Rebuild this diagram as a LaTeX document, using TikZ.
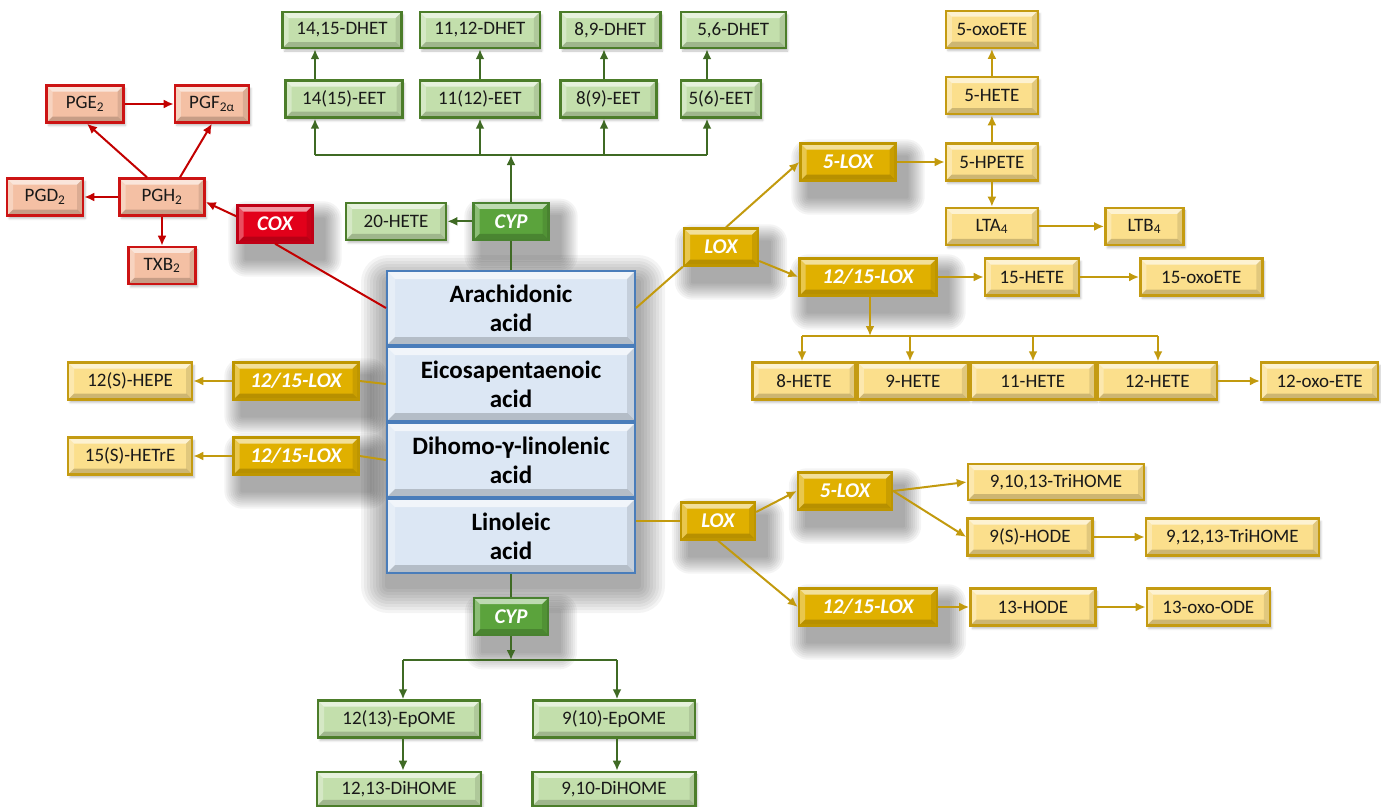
\documentclass[tikz,border=0pt]{standalone}
\usepackage{fontspec}
\setmainfont{Carlito}
\usetikzlibrary{positioning, calc, arrows.meta, shadows.blur, backgrounds}
\tikzset{>={Latex[length=10pt,width=9pt]}}
\definecolor{gFill}{HTML}{C3DFAC}
\definecolor{gBorder}{HTML}{4C7D2A}
\definecolor{gEnz}{HTML}{5BA33C}
\definecolor{gLine}{HTML}{3F6A24}
\definecolor{rFill}{HTML}{F4C0A4}
\definecolor{rBorder}{HTML}{CC1414}
\definecolor{rEnz}{HTML}{E2001A}
\definecolor{rLine}{HTML}{C20000}
\definecolor{yFill}{HTML}{FBDF8C}
\definecolor{yBorder}{HTML}{C49B12}
\definecolor{yEnz}{HTML}{E0B000}
\definecolor{yLine}{HTML}{C29A0E}
\definecolor{aFill}{HTML}{DCE7F4}
\definecolor{aBorder}{HTML}{4A7DBA}

\begin{document}
\begin{tikzpicture}[x=1pt, y=1pt,
  bevel/.style={path picture={
    \coordinate (bvA) at (path picture bounding box.north west);
    \coordinate (bvB) at (path picture bounding box.north east);
    \coordinate (bvC) at (path picture bounding box.south east);
    \coordinate (bvD) at (path picture bounding box.south west);
    \fill[white,opacity=.6] (bvA) -- (bvB) -- ([shift={(-#1,-#1)}]bvB) -- ([shift={(#1,-#1)}]bvA) -- cycle;
    \fill[white,opacity=.3] (bvA) -- (bvD) -- ([shift={(#1,#1)}]bvD) -- ([shift={(#1,-#1)}]bvA) -- cycle;
    \fill[black,opacity=.18] (bvD) -- (bvC) -- ([shift={(-#1,#1)}]bvC) -- ([shift={(#1,#1)}]bvD) -- cycle;
    \fill[black,opacity=.1] (bvB) -- (bvC) -- ([shift={(-#1,#1)}]bvC) -- ([shift={(-#1,-#1)}]bvB) -- cycle;
  }},
  bevel/.default=6pt,
  box/.style={draw, line width=2.4pt, minimum height=37pt, inner sep=0pt, bevel},
  prod/.style={box, text=black!90, font=\fontsize{19}{22}\selectfont,
    blur shadow={shadow xshift=2pt, shadow yshift=-3pt, shadow blur radius=2pt, shadow opacity=25}},
  enz/.style={box, text=white, font=\fontsize{21}{24}\selectfont\bfseries\itshape},
  gProd/.style={prod, draw=gBorder, fill=gFill},
  rProd/.style={prod, draw=rBorder, fill=rFill},
  yProd/.style={prod, draw=yBorder, fill=yFill},
  gEnzBox/.style={enz, draw=gEnz!80!black, fill=gEnz},
  rEnzBox/.style={enz, draw=rEnz!85!black, fill=rEnz},
  yEnzBox/.style={enz, draw=yEnz!85!black, fill=yEnz},
  acid/.style={draw=aBorder, fill=aFill, line width=2pt, minimum width=248pt, minimum height=74pt,
    inner sep=0pt, align=center, font=\fontsize{25}{29}\selectfont\bfseries, bevel=8pt},
  softShade/.style={fill=black, opacity=.045},
  gCon/.style={draw=gLine, line width=2pt},
  rCon/.style={draw=rLine, line width=2pt},
  yCon/.style={draw=yLine, line width=2pt},
  gArr/.style={gCon, ->, gLine},
  rArr/.style={rCon, ->, rLine},
  yArr/.style={yCon, ->, yLine}]
\useasboundingbox (0,0) rectangle (1381,-806);

% fatty acids
\node[acid] (arachidonic) at (511,-308) {Arachidonic\\acid};
\node[acid, below=0pt of arachidonic] (epa) {Eicosapentaenoic\\acid};
\node[acid, below=0pt of epa] (dgla) {Dihomo-γ-linolenic\\acid};
\node[acid, below=0pt of dgla] (linoleic) {Linoleic\\acid};

% COX branch
\node[rEnzBox, minimum width=75pt] (cox) at (275,-224) {COX};
\node[rProd, minimum width=85pt] (pgh) at (162,-197) {PGH\textsubscript{2}};
\node[rProd, minimum width=76pt, left=34pt of pgh] (pgd) {PGD\textsubscript{2}};
\node[rProd, minimum width=67pt, below=29pt of pgh] (txb) {TXB\textsubscript{2}};
\node[rProd, minimum width=77pt] (pge) at (85,-104) {PGE\textsubscript{2}};
\node[rProd, minimum width=74pt, right=49pt of pge] (pgf) {PGF\textsubscript{2α}};

% CYP branch (arachidonic acid)
\node[gEnzBox, minimum width=75pt, above=29pt of arachidonic] (cypTop) {CYP};
\node[gProd, minimum width=100pt, left=25pt of cypTop] (hete20) {20-HETE};
\node[gProd, minimum width=117pt] (eet14) at (344,-99) {14(15)-EET};
\node[gProd, minimum width=120pt, right=15pt of eet14] (eet11) {11(12)-EET};
\node[gProd, minimum width=96pt, right=18pt of eet11] (eet8) {8(9)-EET};
\node[gProd, minimum width=80pt, right=22pt of eet8] (eet5) {5(6)-EET};
\node[gProd, minimum width=119pt, minimum height=36pt] (dhet14) at (342,-30) {14,15-DHET};
\node[gProd, minimum width=120pt, minimum height=36pt, right=16pt of dhet14] (dhet11) {11,12-DHET};
\node[gProd, minimum width=100pt, minimum height=36pt, right=18pt of dhet11] (dhet8) {8,9-DHET};
\node[gProd, minimum width=105pt, minimum height=36pt, right=18pt of dhet8] (dhet5) {5,6-DHET};

% LOX branch (arachidonic acid)
\node[yEnzBox, minimum width=74pt] (loxTop) at (721,-247) {LOX};
\node[yEnzBox, minimum width=95pt] (lox5Top) at (848,-162) {5-LOX};
\node[yEnzBox, minimum width=137pt] (lox1215Top) at (868,-277) {12/15-LOX};
\node[yProd, minimum width=92pt, right=48pt of lox5Top] (hpete5) {5-HPETE};
\node[yProd, minimum width=92pt, above=27pt of hpete5] (hete5) {5-HETE};
\node[yProd, minimum width=92pt, above=27pt of hete5] (oxo5) {5-oxoETE};
\node[yProd, minimum width=92pt, below=25pt of hpete5] (lta) {LTA\textsubscript{4}};
\node[yProd, minimum width=78pt, right=65pt of lta] (ltb) {LTB\textsubscript{4}};
\node[yProd, minimum width=94pt, right=46pt of lox1215Top] (hete15) {15-HETE};
\node[yProd, minimum width=122pt, right=59pt of hete15] (oxo15) {15-oxoETE};
\node[yProd, minimum width=103pt] (hete8) at (804,-381) {8-HETE};
\node[yProd, minimum width=110pt, right=0pt of hete8] (hete9) {9-HETE};
\node[yProd, minimum width=125pt, right=0pt of hete9] (hete11) {11-HETE};
\node[yProd, minimum width=119pt, right=0pt of hete11] (hete12) {12-HETE};
\node[yProd, minimum width=117pt, right=42pt of hete12] (oxo12) {12-oxo-ETE};

% EPA and DGLA
\node[yEnzBox, minimum width=125pt] (lox1215Epa) at (296,-381) {12/15-LOX};
\node[yProd, minimum width=124pt, left=39pt of lox1215Epa] (hepe) {12(S)-HEPE};
\node[yEnzBox, minimum width=125pt] (lox1215Dgla) at (296,-456) {12/15-LOX};
\node[yProd, minimum width=124pt, left=39pt of lox1215Dgla] (hetre) {15(S)-HETrE};

% LOX branch (linoleic acid)
\node[yEnzBox, minimum width=74pt] (loxLa) at (718,-521) {LOX};
\node[yEnzBox, minimum width=94pt] (lox5La) at (845,-491) {5-LOX};
\node[yEnzBox, minimum width=138pt] (lox1215La) at (868,-607) {12/15-LOX};
\node[yProd, minimum width=176pt, minimum height=36pt] (triHome1) at (1056,-482) {9,10,13-TriHOME};
\node[yProd, minimum width=125pt] (hode9) at (1030,-537) {9(S)-HODE};
\node[yProd, minimum width=173pt, right=51pt of hode9] (triHome2) {9,12,13-TriHOME};
\node[yProd, minimum width=125pt, right=31pt of lox1215La] (hode13) {13-HODE};
\node[yProd, minimum width=123pt, right=49pt of hode13] (oxoOde) {13-oxo-ODE};

% CYP branch (linoleic acid)
\node[gEnzBox, minimum width=74pt, below=23pt of linoleic] (cypLa) {CYP};
\node[gProd, minimum width=162pt] (epome12) at (399,-719) {12(13)-EpOME};
\node[gProd, minimum width=162pt] (epome9) at (614,-719) {9(10)-EpOME};
\node[gProd, minimum width=164pt, minimum height=34pt, below=32pt of epome12] (dihome12) {12,13-DiHOME};
\node[gProd, minimum width=163pt, minimum height=34pt, below=32pt of epome9] (dihome9) {9,10-DiHOME};

% soft shadows behind enzymes and the acid stack
\begin{scope}[on background layer]
  \foreach \n in {cox, cypTop, cypLa, loxTop, lox5Top, lox1215Top, lox1215Epa, lox1215Dgla, loxLa, lox5La, lox1215La}
    \foreach \s in {2,4,...,18}
      \fill[softShade, rounded corners=\s]
        ([shift={(10-\s,-15+\s)}]\n.north west) rectangle ([shift={(10+\s,-15-\s)}]\n.south east);
  \foreach \s in {3,6,...,27}
    \fill[softShade, rounded corners=\s]
      ([shift={(2-\s,-12+\s)}]arachidonic.north west) rectangle ([shift={(2+\s,-12-\s)}]linoleic.south east);
\end{scope}

% bus points
\coordinate (eetBus1) at (315,-155);
\coordinate (eetBus2) at (480,-155);
\coordinate (eetBus3) at (604,-155);
\coordinate (eetBus4) at (707,-155);
\coordinate (heteBus1) at (802,-336);
\coordinate (heteBus2) at (910,-336);
\coordinate (heteBus3) at (1033,-336);
\coordinate (heteBus4) at (1158,-336);
\coordinate (epBus1) at (403,-660);
\coordinate (epBus2) at (617,-660);

% COX connectors
\draw[rCon] (arachidonic.west) -- (cox.south);
\draw[rArr] ([yshift=-12pt]cox.north west) -- ([yshift=-5pt]pgh.east);
\draw[rArr] (pgh.west) -- (pgd.east);
\draw[rArr] (pgh.south) -- (txb.north);
\draw[rArr] ([xshift=-15pt]pgh.north) -- ([xshift=2pt]pge.south);
\draw[rArr] ([xshift=18pt]pgh.north) -- (pgf.south);
\draw[rArr] (pge.east) -- (pgf.west);

% CYP connectors (top)
\draw[gCon] (arachidonic.north) -- (cypTop.south);
\draw[gArr] (cypTop.west) -- (hete20.east);
\draw[gArr] (cypTop.north) -- (cypTop.north |- eetBus1);
\draw[gCon] (eetBus1) -- (eetBus4);
\draw[gArr] (eetBus1) -- (eet14.south -| eetBus1);
\draw[gArr] (eetBus2) -- (eet11.south -| eetBus2);
\draw[gArr] (eetBus3) -- (eet8.south -| eetBus3);
\draw[gArr] (eetBus4) -- (eet5.south -| eetBus4);
\draw[gArr] (eet14.north -| eetBus1) -- (dhet14.south -| eetBus1);
\draw[gArr] (eet11.north -| eetBus2) -- (dhet11.south -| eetBus2);
\draw[gArr] (eet8.north -| eetBus3) -- (dhet8.south -| eetBus3);
\draw[gArr] (eet5.north -| eetBus4) -- (dhet5.south -| eetBus4);

% LOX connectors (top)
\draw[yCon] (arachidonic.east) -- (loxTop.south west);
\draw[yArr] ([xshift=5pt]loxTop.north) -- (lox5Top.west);
\draw[yArr] ([yshift=-14pt]loxTop.east) -- (lox1215Top.west);
\draw[yArr] (lox5Top.east) -- (hpete5.west);
\draw[yArr] (hpete5.north) -- (hete5.south);
\draw[yArr] (hete5.north) -- (oxo5.south);
\draw[yArr] (hpete5.south) -- (lta.north);
\draw[yArr] (lta.east) -- (ltb.west);
\draw[yArr] (lox1215Top.east) -- (hete15.west);
\draw[yArr] (hete15.east) -- (oxo15.west);
\draw[yArr] ([xshift=2pt]lox1215Top.south) -- ([xshift=2pt]lox1215Top.south |- heteBus1);
\draw[yCon] (heteBus1) -- (heteBus4);
\draw[yArr] (heteBus1) -- (hete8.north -| heteBus1);
\draw[yArr] (heteBus2) -- (hete9.north -| heteBus2);
\draw[yArr] (heteBus3) -- (hete11.north -| heteBus3);
\draw[yArr] (heteBus4) -- (hete12.north -| heteBus4);
\draw[yArr] (hete12.east) -- (oxo12.west);

% EPA / DGLA connectors
\draw[yCon] (epa.west) -- (lox1215Epa.east);
\draw[yArr] (lox1215Epa.west) -- (hepe.east);
\draw[yCon] (dgla.west) -- (lox1215Dgla.east);
\draw[yArr] (lox1215Dgla.west) -- (hetre.east);

% LOX connectors (linoleic acid)
\draw[yCon] (loxLa.west -| linoleic.east) -- (loxLa.west);
\draw[yArr] ([yshift=9pt]loxLa.east) -- (lox5La.west);
\draw[yArr] (loxLa.south) -- (lox1215La.west);
\draw[yArr] (lox5La.east) -- (triHome1.west);
\draw[yArr] (lox5La.east) -- (hode9.west);
\draw[yArr] (hode9.east) -- (triHome2.west);
\draw[yArr] (lox1215La.east) -- (hode13.west);
\draw[yArr] (hode13.east) -- (oxoOde.west);

% CYP connectors (linoleic acid)
\draw[gCon] (linoleic.south) -- (cypLa.north);
\draw[gArr] (cypLa.south) -- (cypLa.south |- epBus1);
\draw[gCon] (epBus1) -- (epBus2);
\draw[gArr] (epBus1) -- (epome12.north -| epBus1);
\draw[gArr] (epBus2) -- (epome9.north -| epBus2);
\draw[gArr] (epome12.south -| epBus1) -- (dihome12.north -| epBus1);
\draw[gArr] (epome9.south -| epBus2) -- (dihome9.north -| epBus2);
\end{tikzpicture}
\end{document}
